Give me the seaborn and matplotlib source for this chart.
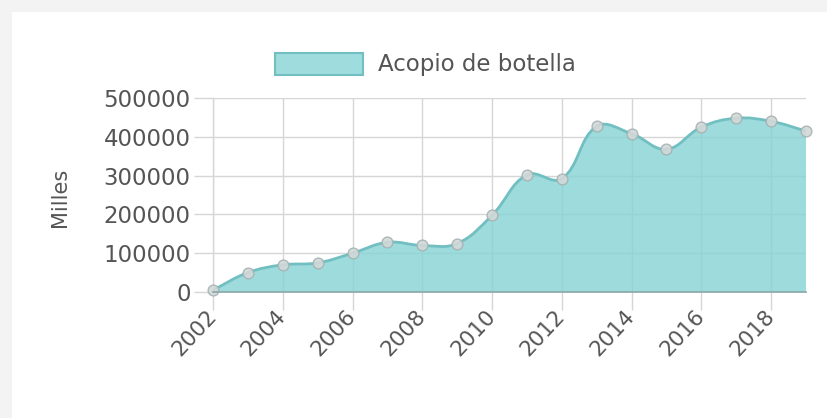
import numpy as np
import matplotlib
matplotlib.use("Agg")
import matplotlib.pyplot as plt
import seaborn as sns
from matplotlib.path import Path
from matplotlib.patches import PathPatch, Patch, Rectangle
from matplotlib.ticker import FixedLocator

# ---- data ----
years = [2002, 2003, 2004, 2005, 2006, 2007, 2008, 2009, 2010,
         2011, 2012, 2013, 2014, 2015, 2016, 2017, 2018, 2019]
acopio = [5000, 50000, 70000, 75000, 100000, 128000, 120000, 125000, 198000,
          302000, 292000, 427000, 408000, 368000, 425000, 448000, 440000, 415000]
series_label = "Acopio de botella"
y_label = "Milles"
x_ticks = [2002, 2004, 2006, 2008, 2010, 2012, 2014, 2016, 2018]
y_ticks = [0, 100000, 200000, 300000, 400000, 500000]

W, H = 828, 418
sns.set_theme(style="white")
plt.rcParams['font.family'] = ['DejaVu Sans']

FILL = "#85d3d5"
LINE = "#72bfc1"
TXT = "#555555"
GRID = "#d6d6d6"

fig = plt.figure(figsize=(W / 100, H / 100), dpi=100)
fig.patch.set_facecolor("#f3f3f3")
fig.add_artist(Rectangle((12 / W, 0), 1, 1 - 12 / H, transform=fig.transFigure,
                         facecolor="white", edgecolor="none", zorder=0))

ax = fig.add_axes([213 / W, (H - 292) / H, 593 / W, 194 / H])
ax.set_facecolor("none")
ax.set_xlim(years[0], years[-1])
ax.set_ylim(0, 500000)

# smooth (Chart.js-like tension) path built from the data
x = np.asarray(years, float)
y = np.asarray(acopio, float)
sx = 593 / (years[-1] - years[0])
sy = 194 / 500000
px, py = x * sx, y * sy
t = 0.4
n = len(x)
cp_prev = np.zeros((n, 2))
cp_next = np.zeros((n, 2))
for i in range(n):
    p0 = (px[max(i - 1, 0)], py[max(i - 1, 0)])
    p1 = (px[i], py[i])
    p2 = (px[min(i + 1, n - 1)], py[min(i + 1, n - 1)])
    d01 = np.hypot(p1[0] - p0[0], p1[1] - p0[1])
    d12 = np.hypot(p2[0] - p1[0], p2[1] - p1[1])
    s01 = d01 / (d01 + d12) if d01 + d12 else 0
    s12 = d12 / (d01 + d12) if d01 + d12 else 0
    fa, fb = t * s01, t * s12
    cp_prev[i] = (p1[0] - fa * (p2[0] - p0[0]), p1[1] - fa * (p2[1] - p0[1]))
    cp_next[i] = (p1[0] + fb * (p2[0] - p0[0]), p1[1] + fb * (p2[1] - p0[1]))
cp_prev[:, 1] = np.maximum(cp_prev[:, 1], 0)
cp_next[:, 1] = np.maximum(cp_next[:, 1], 0)
cp_prev /= (sx, sy)
cp_next /= (sx, sy)

verts = [(x[0], y[0])]
codes = [Path.MOVETO]
for i in range(n - 1):
    verts += [tuple(cp_next[i]), tuple(cp_prev[i + 1]), (x[i + 1], y[i + 1])]
    codes += [Path.CURVE4] * 3
line_path = Path(verts, codes)
fill_verts = [(x[0], 0)] + verts + [(x[-1], 0), (x[0], 0)]
fill_codes = [Path.MOVETO, Path.LINETO] + codes[1:] + [Path.LINETO, Path.CLOSEPOLY]
ax.add_patch(PathPatch(Path(fill_verts, fill_codes), facecolor=FILL, alpha=0.8,
                       edgecolor="none", zorder=1))
ax.add_patch(PathPatch(line_path, facecolor="none", edgecolor=LINE, lw=2, zorder=3))

sns.scatterplot(x=years, y=acopio, ax=ax, s=60, color="#d3d8d8", edgecolor="#a6b2b2",
                linewidth=1, alpha=0.9, zorder=4, clip_on=False, legend=False)

# grid / axes
ax.xaxis.set_major_locator(FixedLocator(x_ticks))
ax.yaxis.set_major_locator(FixedLocator(y_ticks))
ax.set_xticklabels([str(v) for v in x_ticks])
ax.set_yticklabels([str(v) for v in y_ticks])
ax.grid(True, color=GRID, lw=1, zorder=0)
ax.set_axisbelow(True)
for s in ["top", "right"]:
    ax.spines[s].set_visible(False)
ax.spines["left"].set_color(GRID)
ax.spines["left"].set_linewidth(1)
ax.spines["bottom"].set_color("#8aa6a6")
ax.spines["bottom"].set_linewidth(1.2)
ax.spines["bottom"].set_zorder(5)
ax.tick_params(axis="both", width=1, color=GRID, labelcolor=TXT,
               bottom=True, left=True)
ax.tick_params(axis="y", labelsize=16.5, length=14, pad=2)
ax.tick_params(axis="x", labelsize=15.5, length=13, pad=2)
for lab in ax.get_xticklabels():
    lab.set_rotation(47)
    lab.set_ha("right")
    lab.set_va("center")
    lab.set_rotation_mode("anchor")

ax.set_ylabel(y_label, fontsize=15, color=TXT)
ax.yaxis.set_label_coords(-0.241, 0.49)
ax.set_xlabel("")

handle = Patch(facecolor="#9edcdd", edgecolor=LINE, linewidth=1.5)
fig.legend([handle], [series_label], loc="center left",
           bbox_to_anchor=(275 / W, 1 - 64.5 / H), frameon=False,
           fontsize=16.5, labelcolor=TXT, borderpad=0, borderaxespad=0,
           handlelength=3.85, handleheight=1.1, handletextpad=0.65)

fig.savefig("out.png", dpi=100, facecolor=fig.get_facecolor())
